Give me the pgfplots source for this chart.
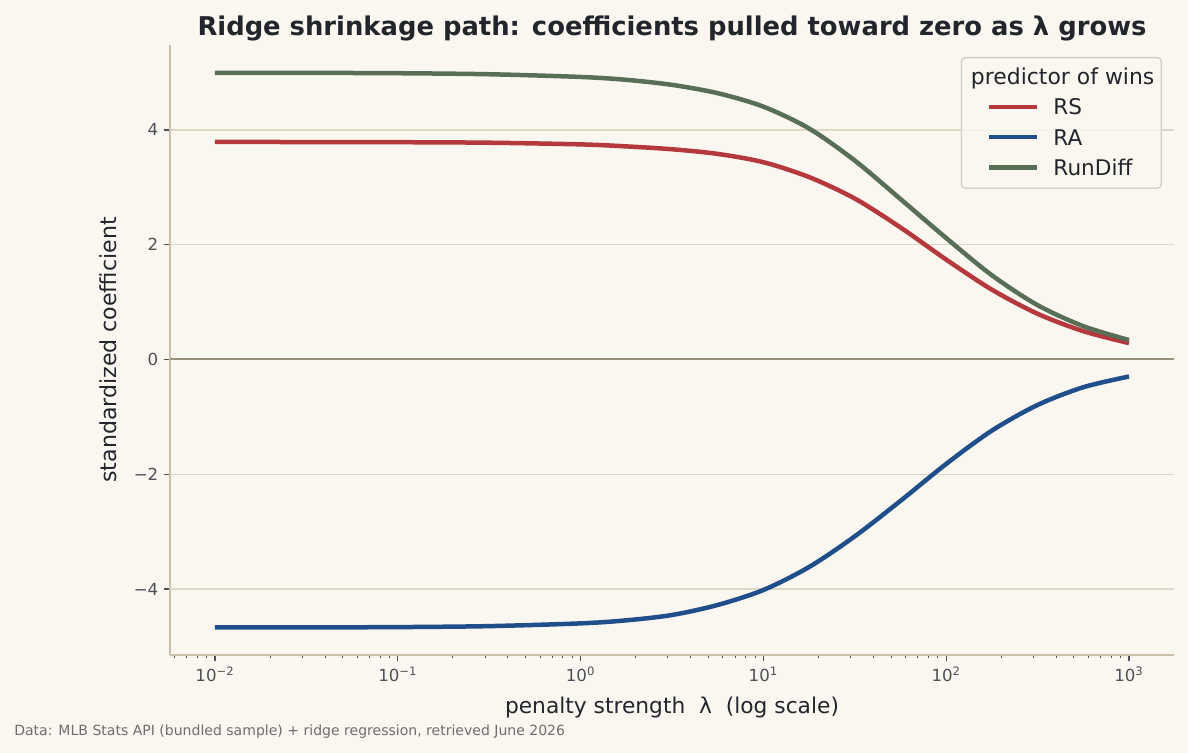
\documentclass[border=0pt]{standalone}
\usepackage{fontspec}
\setmainfont{DejaVu Sans}
\usepackage{pgfplots}
\usepackage{pgfplotstable}
\pgfplotsset{compat=1.18}

\definecolor{paper}{RGB}{250,247,240}
\definecolor{gridtan}{RGB}{222,215,198}
\definecolor{spinetan}{RGB}{204,191,171}
\definecolor{zeroline}{RGB}{152,144,124}
\definecolor{inkdark}{RGB}{34,37,43}
\definecolor{tickgray}{RGB}{77,80,86}
\definecolor{notegray}{RGB}{110,110,110}
\definecolor{legframe}{RGB}{208,206,200}
\definecolor{rscol}{RGB}{181,57,60}
\definecolor{racol}{RGB}{31,78,138}
\definecolor{rdcol}{RGB}{89,110,87}

% ridge coefficient paths (standardized), lambda on a log grid
\pgfplotstableread{
lambda coef
0.01    3.790
0.0316  3.789
0.1     3.786
0.316   3.777
1       3.748
1.778   3.713
3.162   3.663
5.623   3.582
10      3.437
17.78   3.178
31.62   2.804
56.23   2.300
100     1.740
177.8   1.216
316.2   0.796
562.3   0.493
1000    0.285
}\rsdata

\pgfplotstableread{
lambda coef
0.01    -4.670
0.0316  -4.669
0.1     -4.664
0.316   -4.647
1       -4.599
1.778   -4.546
3.162   -4.453
5.623   -4.278
10      -4.017
17.78   -3.617
31.62   -3.082
56.23   -2.464
100     -1.820
177.8   -1.240
316.2   -0.793
562.3   -0.484
1000    -0.297
}\radata

\pgfplotstableread{
lambda coef
0.01    4.995
0.0316  4.994
0.1     4.988
0.316   4.970
1       4.923
1.778   4.873
3.162   4.785
5.623   4.640
10      4.405
17.78   4.025
31.62   3.466
56.23   2.795
100     2.115
177.8   1.467
316.2   0.946
562.3   0.580
1000    0.338
}\rddata

\begin{document}
\begin{tikzpicture}[x=1bp,y=1bp]
\fill[paper] (-102,-58.8) rectangle (610.8,393);
\begin{axis}[
  at={(0,0)}, anchor=south west,
  scale only axis, width=602.4bp, height=366bp,
  xmode=log, log basis x=10,
  xmin=0.005673, xmax=1762.6, ymin=-5.15, ymax=5.48,
  axis x line*=bottom, axis y line*=left,
  axis line style={spinetan, line width=0.8bp, -},
  xtick={0.01,0.1,1,10,100,1000},
  xticklabels={10\textsuperscript{−2},10\textsuperscript{−1},10\textsuperscript{0},10\textsuperscript{1},10\textsuperscript{2},10\textsuperscript{3}},
  minor xtick={0.006,0.007,0.008,0.009,0.02,0.03,0.04,0.05,0.06,0.07,0.08,0.09,0.2,0.3,0.4,0.5,0.6,0.7,0.8,0.9,2,3,4,5,6,7,8,9,20,30,40,50,60,70,80,90,200,300,400,500,600,700,800,900},
  ytick={-4,-2,0,2,4},
  yticklabels={−4,−2,0,2,4},
  tick align=outside,
  major tick length=3.5bp, minor tick length=2bp,
  every tick/.style={tickgray, line width=0.8bp},
  every minor tick/.style={tickgray, line width=0.6bp},
  ymajorgrids, grid style={gridtan, line width=0.8bp},
  tick label style={font=\fontsize{10}{12}\selectfont, text=tickgray},
  xlabel={penalty strength\ \ λ\ \ (log scale)},
  ylabel={standardized coefficient},
  x label style={at={(0.5,-0.0959)}, anchor=base, font=\fontsize{13.1}{15}\selectfont, text=inkdark},
  y label style={at={(-0.0528,0.5)}, anchor=base, font=\fontsize{13.3}{15}\selectfont, text=inkdark},
  legend cell align=left,
  legend image code/.code={\path (0bp,0bp); \draw[#1] (13.2bp,4.7bp) -- (42bp,4.7bp);},
  legend style={at={(1,1)}, anchor=north east, xshift=-7.2bp, yshift=-7.2bp,
    draw=legframe, line width=0.8bp, fill=paper, fill opacity=0.85, text opacity=1,
    rounded corners=2.4bp,
    inner xsep=2.2bp, inner ysep=4.3bp, column sep=6.3bp, row sep=2.6bp,
    font=\fontsize{13}{15}\selectfont, text=inkdark,
    cells={anchor=base west, inner sep=0pt, text height=10bp, text depth=3bp}},
]
\addlegendimage{empty legend}
\addlegendentry{\hspace*{-49.5bp}{\fontsize{13.2}{15}\selectfont predictor of wins}}

\addplot[zeroline, line width=1.2bp, forget plot] coordinates {(0.005673,0) (1762.6,0)};

\addplot[rscol, line width=2.7bp, smooth] table[x=lambda, y=coef] {\rsdata};
\addlegendentry{RS}
\addplot[racol, line width=2.7bp, smooth] table[x=lambda, y=coef] {\radata};
\addlegendentry{RA}
\addplot[rdcol, line width=2.7bp, smooth] table[x=lambda, y=coef] {\rddata};
\addlegendentry{RunDiff}
\end{axis}
\node[anchor=base, inner sep=0pt, font=\bfseries\fontsize{15.55}{18}\selectfont, text=inkdark] at (301.2,371.4)
  {Ridge shrinkage path: coefficients pulled toward zero as λ grows};
\node[anchor=base west, inner sep=0pt, font=\fontsize{8.45}{10}\selectfont, text=notegray] at (-93.6,-48.6)
  {Data: MLB Stats API (bundled sample) + ridge regression, retrieved June 2026};
\pgfresetboundingbox
\path (-102,-58.8) rectangle (610.8,393);
\end{tikzpicture}
\end{document}
